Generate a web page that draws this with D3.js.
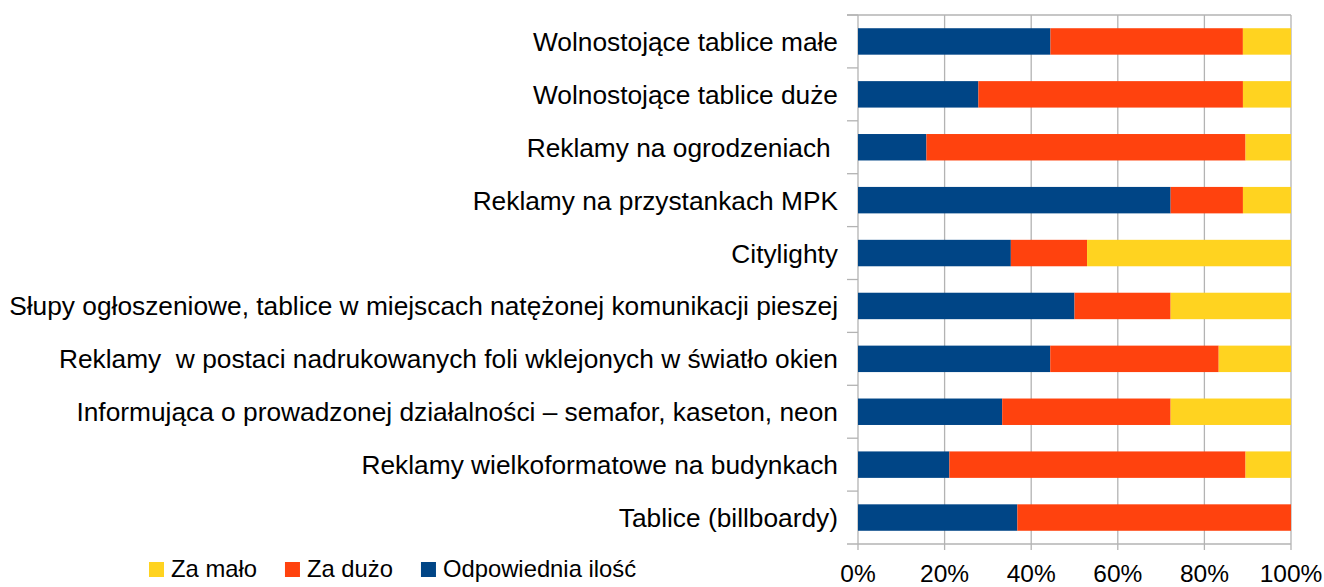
<!DOCTYPE html>
<html>
<head>
<meta charset="utf-8">
<script src="https://cdn.jsdelivr.net/npm/d3@7"></script>
<style>
  body { margin: 0; background: #fff; }
  svg { display: block; font-family: "Liberation Sans", Arial, sans-serif; }
  text { white-space: pre; fill: #000; }
</style>
</head>
<body>
<div id="chart"></div>
<script>
//chart data, top row first
const categories = [
  "Wolnostojące tablice małe",
  "Wolnostojące tablice duże",
  "Reklamy na ogrodzeniach ",
  "Reklamy na przystankach MPK",
  "Citylighty",
  "Słupy ogłoszeniowe, tablice w miejscach natężonej komunikacji pieszej",
  "Reklamy  w postaci nadrukowanych foli wklejonych w światło okien",
  "Informująca o prowadzonej działalności – semafor, kaseton, neon",
  "Reklamy wielkoformatowe na budynkach",
  "Tablice (billboardy)"
];
const odpowiedniaIlosc = [44.4, 27.8, 15.8, 72.2, 35.3, 50.0, 44.4, 33.3, 21.1, 36.8];
const zaDuzo = [44.4, 61.1, 73.7, 16.7, 17.6, 22.2, 38.9, 38.9, 68.4, 63.2];
const zaMalo = [11.1, 11.1, 10.5, 11.1, 47.1, 27.8, 16.7, 27.8, 10.5, 0];
const tickValues = [0, 0.2, 0.4, 0.6, 0.8, 1];

const seriesNames = ["Odpowiednia ilość", "Za dużo", "Za mało"];
const legendOrder = ["Za mało", "Za dużo", "Odpowiednia ilość"];

const width = 1324,
    height = 587;

const plot = { left: 858, right: 1291, top: 15, bottom: 544 };

const colors = d3.scaleOrdinal()
  .domain(seriesNames)
  .range(["#004586", "#ff420e", "#ffd320"]);

const gridColor = "#b3b3b3";

//rows for the stack
let rows = categories.map(function(c, i) {
  return {
    category: c,
    "Odpowiednia ilość": odpowiedniaIlosc[i],
    "Za dużo": zaDuzo[i],
    "Za mało": zaMalo[i]
  };
});

let stack = d3.stack()
  .keys(seriesNames)
  .offset(d3.stackOffsetExpand);

let series = stack(rows);

let x = d3.scaleLinear()
  .domain([0, 1])
  .range([plot.left, plot.right]);

let y = d3.scaleBand()
  .domain(categories)
  .range([plot.top, plot.bottom])
  .paddingInner(0.5)
  .paddingOuter(0.25);

let svg = d3.select("#chart").append("svg")
  .attr("width", width)
  .attr("height", height);

//vertical grid lines
svg.append("g")
  .selectAll("line")
  .data(tickValues)
  .enter()
    .append("line")
    .attr("x1", function(d) { return x(d); })
    .attr("x2", function(d) { return x(d); })
    .attr("y1", plot.top)
    .attr("y2", plot.bottom + 6)
    .attr("stroke", gridColor)
    .attr("stroke-width", 1.3);

//top line
svg.append("line")
  .attr("x1", plot.left - 11)
  .attr("x2", plot.right)
  .attr("y1", plot.top)
  .attr("y2", plot.top)
  .attr("stroke", gridColor)
  .attr("stroke-width", 1.3);

//bottom axis line
svg.append("line")
  .attr("x1", plot.left - 11)
  .attr("x2", plot.right)
  .attr("y1", plot.bottom)
  .attr("y2", plot.bottom)
  .attr("stroke", gridColor)
  .attr("stroke-width", 1.3);

//category boundary ticks on the left
let boundaries = categories.map(function(c) { return y(c) - y.step() * 0.25; });
svg.append("g")
  .selectAll("line")
  .data(boundaries)
  .enter()
    .append("line")
    .attr("x1", plot.left - 11)
    .attr("x2", plot.left)
    .attr("y1", function(d) { return d; })
    .attr("y2", function(d) { return d; })
    .attr("stroke", gridColor)
    .attr("stroke-width", 1.3);

//bars
svg.append("g")
  .selectAll("g")
  .data(series)
  .enter()
    .append("g")
    .attr("fill", function(d) { return colors(d.key); })
  .selectAll("rect")
  .data(function(d) { return d; })
  .enter()
    .append("rect")
    .attr("x", function(d) { return x(d[0]); })
    .attr("width", function(d) { return x(d[1]) - x(d[0]); })
    .attr("y", function(d) { return y(d.data.category); })
    .attr("height", y.bandwidth());

//category labels
svg.append("g")
  .selectAll("text")
  .data(categories)
  .enter()
    .append("text")
    .attr("x", plot.left - 20)
    .attr("y", function(d) { return y(d) + y.bandwidth() / 2; })
    .attr("dy", "0.36em")
    .attr("text-anchor", "end")
    .style("font-size", "26.3px")
    .text(function(d) { return d; });

//x tick labels
svg.append("g")
  .selectAll("text")
  .data(tickValues)
  .enter()
    .append("text")
    .attr("x", function(d) { return x(d); })
    .attr("y", 582)
    .attr("text-anchor", "middle")
    .style("font-size", "24.5px")
    .text(d3.format(".0%"));

//legend
let legend = svg.append("g");
let cursor = 149;
legendOrder.forEach(function(name) {
  legend.append("rect")
    .attr("x", cursor)
    .attr("y", 562)
    .attr("width", 15)
    .attr("height", 15)
    .attr("fill", colors(name));
  let t = legend.append("text")
    .attr("x", cursor + 22)
    .attr("y", 577)
    .style("font-size", "23.8px")
    .text(name);
  cursor += 22 + t.node().getComputedTextLength() + 28;
});
</script>
</body>
</html>
